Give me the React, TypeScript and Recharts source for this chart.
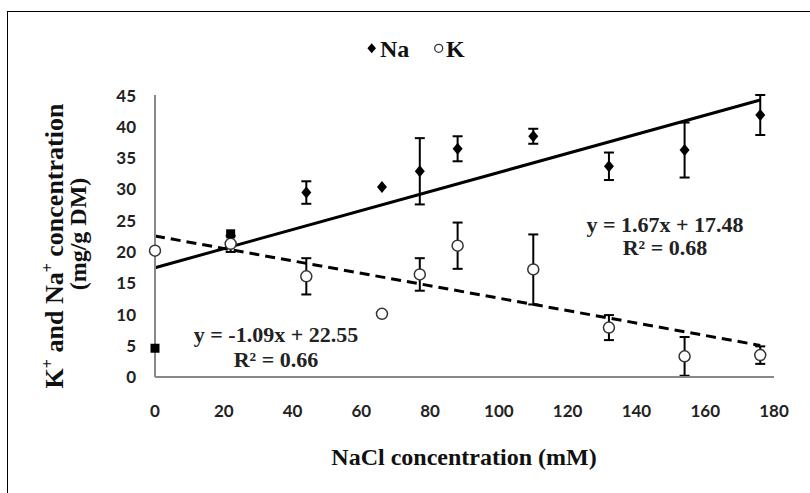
import { ComposedChart, Line, Scatter, ErrorBar, XAxis, YAxis } from "recharts";

// NaCl treatments (mM)
const concentrations = [0, 22, 44, 66, 77, 88, 110, 132, 154, 176];

// Na+ and K+ content (mg/g DM) with their error bars
const naValues = [4.6, 22.9, 29.5, 30.4, 32.9, 36.5, 38.5, 33.7, 36.3, 41.9];
const naErrors = [0, 0, 1.8, 0, 5.3, 2.0, 1.2, 2.2, 4.4, 3.2];
const kValues = [20.2, 21.3, 16.1, 10.1, 16.4, 21.0, 17.2, 7.9, 3.3, 3.5];
const kErrors = [0, 1.3, 2.9, 0, 2.6, 3.7, 5.6, 2.0, 3.1, 1.4];

// linear trend lines, start and end
const trendX = [0, 176];
const naTrend = [17.48, 44.3];
const kTrend = [22.55, 5.05];

const xTicks = [0, 20, 40, 60, 80, 100, 120, 140, 160, 180];
const yTicks = [0, 5, 10, 15, 20, 25, 30, 35, 40, 45];

const naData = concentrations.map((x, i) => ({ x, y: naValues[i], err: naErrors[i], i }));
const kData = concentrations.map((x, i) => ({ x, y: kValues[i], err: kErrors[i], i }));
const naTrendData = trendX.map((x, i) => ({ x, y: naTrend[i] }));
const kTrendData = trendX.map((x, i) => ({ x, y: kTrend[i] }));

const serif = "'Liberation Serif', 'Times New Roman', serif";
const tickStyle = {
  fill: "#222",
  fontFamily: "Lato, 'Open Sans', sans-serif",
  fontWeight: 700,
  fontSize: 17,
};

function NaMarker(props: any) {
  const { cx, cy, payload } = props;
  if (cx == null || cy == null) return null;
  // first two points come out as squares in the original
  if (payload && payload.i < 2) {
    return <rect x={cx - 4.5} y={cy - 4.5} width={9} height={9} fill="#000" />;
  }
  return (
    <polygon
      points={`${cx},${cy - 6} ${cx + 5},${cy} ${cx},${cy + 6} ${cx - 5},${cy}`}
      fill="#000"
    />
  );
}

function KMarker(props: any) {
  const { cx, cy } = props;
  if (cx == null || cy == null) return null;
  return <circle cx={cx} cy={cy} r={5.5} fill="#fff" stroke="#333" strokeWidth={1.5} />;
}

export default function App() {
  return (
    <div
      style={{
        position: "absolute",
        left: 0,
        top: 0,
        width: 810,
        height: 493,
        overflow: "hidden",
        background: "#fff",
      }}
    >
      <div
        style={{
          position: "absolute",
          left: 7,
          top: 11,
          width: 900,
          height: 600,
          borderLeft: "1.5px solid #000",
          borderTop: "1.5px solid #000",
        }}
      />
      <div style={{ position: "absolute", left: 0, top: 0 }}>
        <ComposedChart
          width={810}
          height={493}
          margin={{ top: 95, right: 36, bottom: 86, left: 105 }}
        >
          <XAxis
            type="number"
            dataKey="x"
            domain={[0, 180]}
            ticks={xTicks}
            interval={0}
            height={30}
            tickLine={false}
            tickMargin={22}
            axisLine={{ stroke: "#888", strokeWidth: 2 }}
            tick={tickStyle}
          />
          <YAxis
            type="number"
            dataKey="y"
            domain={[0, 45]}
            ticks={yTicks}
            interval={0}
            width={50}
            tickLine={false}
            tickMargin={13}
            axisLine={{ stroke: "#888", strokeWidth: 2 }}
            tick={tickStyle}
          />
          <Line
            data={naTrendData}
            dataKey="y"
            type="linear"
            stroke="#000"
            strokeWidth={3}
            dot={false}
            activeDot={false}
            isAnimationActive={false}
          />
          <Line
            data={kTrendData}
            dataKey="y"
            type="linear"
            stroke="#000"
            strokeWidth={3}
            strokeDasharray="10 6"
            dot={false}
            activeDot={false}
            isAnimationActive={false}
          />
          <Scatter data={kData} dataKey="y" shape={KMarker} isAnimationActive={false}>
            <ErrorBar dataKey="err" direction="y" width={5} stroke="#000" strokeWidth={2} />
          </Scatter>
          <Scatter data={naData} dataKey="y" shape={NaMarker} isAnimationActive={false}>
            <ErrorBar dataKey="err" direction="y" width={5} stroke="#000" strokeWidth={2} />
          </Scatter>
        </ComposedChart>
      </div>
      <svg
        width={810}
        height={493}
        style={{ position: "absolute", left: 0, top: 0, pointerEvents: "none" }}
      >
        {/* legend */}
        <polygon points="371.7,43.3 376,48.3 371.7,53.3 367.4,48.3" fill="#000" />
        <text x={380} y={56.5} fontFamily={serif} fontWeight={700} fontSize={24} fill="#111">
          Na
        </text>
        <circle cx={438.7} cy={48.3} r={4} fill="#fff" stroke="#333" strokeWidth={1.3} />
        <text x={446} y={56.5} fontFamily={serif} fontWeight={700} fontSize={24} fill="#111">
          K
        </text>

        {/* axis titles */}
        <text
          x={63}
          y={246}
          transform="rotate(-90 63 246)"
          textAnchor="middle"
          fontFamily={serif}
          fontWeight={700}
          fontSize={26}
          fill="#111"
        >
          K<tspan dy={-10} fontSize={16}>+</tspan>
          <tspan dy={10}> and Na</tspan>
          <tspan dy={-10} fontSize={16}>+</tspan>
          <tspan dy={10}> concentration</tspan>
        </text>
        <text
          x={86}
          y={234}
          transform="rotate(-90 86 234)"
          textAnchor="middle"
          fontFamily={serif}
          fontWeight={700}
          fontSize={24}
          fill="#111"
        >
          (mg/g DM)
        </text>
        <text
          x={464}
          y={465}
          textAnchor="middle"
          fontFamily={serif}
          fontWeight={700}
          fontSize={24}
          fill="#111"
        >
          NaCl concentration (mM)
        </text>

        {/* trend equations */}
        <g fontFamily={serif} fontWeight={700} fontSize={22} fill="#222" textAnchor="middle">
          <text x={276} y={342}>y = -1.09x + 22.55</text>
          <text x={276} y={367}>R² = 0.66</text>
          <text x={665} y={232}>y = 1.67x + 17.48</text>
          <text x={665} y={255}>R² = 0.68</text>
        </g>
      </svg>
    </div>
  );
}
